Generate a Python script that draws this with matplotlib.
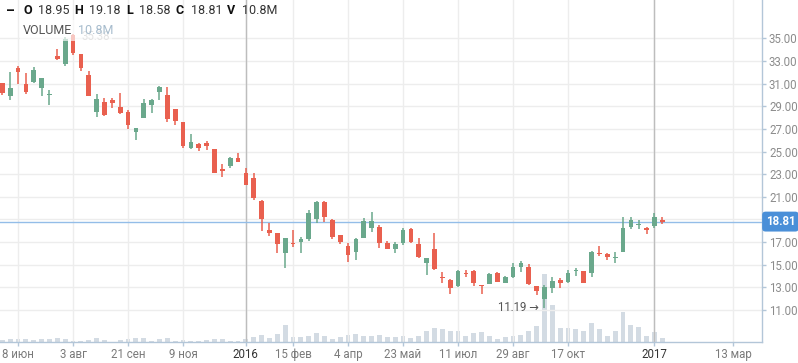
import matplotlib
matplotlib.use("Agg")
import matplotlib.pyplot as plt
import numpy as np

plt.rcParams['font.family'] = ['Roboto', 'DejaVu Sans']

# ---- data (weekly candles) ----
opens = [31.03, 29.93, 32.35, 30.96, 31.17, 30.64, 29.96, 33.44, 32.70, 35.29,
         33.61, 31.76, 28.52, 29.40, 29.55, 28.91, 28.46, 26.75, 27.99, 29.11,
         30.28, 29.99, 28.76, 27.61, 25.31, 25.66, 25.78, 25.22, 23.46, 23.75,
         24.43, 23.08, 22.63, 20.63, 18.07, 17.78, 16.06, 16.92, 17.03, 17.27,
         19.04, 20.51, 18.95, 17.63, 16.65, 16.12, 17.39, 18.27, 18.31, 16.89,
         16.36, 16.89, 18.13, 16.83, 15.18, 16.39, 13.92, 13.68, 13.12, 14.30,
         14.45, 13.21, 13.30, 14.24, 13.39, 13.92, 14.77, 14.77, 13.12, 12.00,
         12.97, 13.65, 13.50, 14.47, 14.42, 14.24, 16.06, 15.95, 15.57, 16.10,
         18.36, 18.54, 18.24, 18.45, 18.95]
highs = [31.08, 32.02, 32.55, 31.96, 32.47, 31.49, 30.43, 34.06, 35.09, 35.38,
         33.61, 32.11, 30.08, 29.70, 29.70, 30.20, 28.67, 27.10, 29.64, 29.64,
         30.82, 30.73, 28.76, 27.61, 26.55, 25.78, 25.93, 25.22, 23.90, 24.54,
         24.84, 23.52, 23.13, 20.72, 18.71, 17.78, 17.33, 18.07, 17.45, 19.83,
         20.63, 20.63, 19.04, 17.63, 16.89, 17.39, 19.10, 19.68, 18.51, 17.10,
         16.98, 18.22, 18.22, 17.33, 15.57, 17.83, 14.38, 13.77, 14.53, 14.53,
         14.53, 13.21, 14.24, 14.36, 14.00, 15.13, 15.33, 15.06, 13.12, 13.21,
         13.89, 13.80, 14.53, 14.68, 14.42, 16.24, 16.65, 16.06, 16.12, 19.19,
         19.19, 18.95, 18.36, 19.60, 19.18]
lows = [29.99, 29.55, 30.96, 30.08, 31.08, 29.93, 29.11, 33.08, 32.58, 33.55,
        32.14, 29.93, 28.08, 28.14, 28.82, 28.31, 26.99, 26.02, 27.99, 28.43,
        29.55, 27.58, 27.34, 25.34, 25.19, 25.07, 25.13, 23.08, 22.78, 23.52,
        24.10, 22.04, 20.72, 18.00, 17.54, 16.01, 14.74, 16.59, 16.06, 17.12,
        18.71, 18.80, 17.27, 16.83, 15.24, 15.42, 17.39, 17.92, 16.50, 16.36,
        16.06, 16.72, 16.89, 15.62, 14.09, 14.56, 13.36, 12.41, 13.06, 13.89,
        13.12, 12.44, 13.30, 13.50, 13.39, 13.85, 14.38, 13.21, 12.33, 11.19,
        12.53, 12.97, 13.36, 14.00, 13.36, 13.94, 15.80, 15.42, 15.13, 16.10,
        18.16, 18.13, 17.74, 18.27, 18.58]
closes = [30.20, 30.61, 32.05, 30.28, 32.20, 31.49, 30.08, 33.21, 34.91, 33.73,
          32.40, 29.93, 29.64, 28.23, 29.26, 28.43, 27.34, 27.10, 29.31, 29.55,
          30.73, 27.87, 27.70, 25.49, 25.84, 25.34, 25.49, 23.13, 23.31, 24.45,
          24.10, 22.04, 20.93, 19.04, 17.83, 16.83, 17.33, 16.83, 17.27, 19.54,
          20.51, 19.24, 17.45, 17.03, 15.86, 17.27, 18.86, 18.86, 16.89, 16.36,
          16.83, 18.07, 17.03, 15.71, 15.57, 14.62, 13.85, 12.97, 14.45, 14.21,
          13.41, 13.12, 14.18, 13.50, 13.89, 14.77, 15.13, 13.30, 12.70, 13.01,
          13.56, 13.41, 14.24, 14.53, 13.41, 16.12, 15.92, 15.71, 15.66, 18.22,
          18.95, 18.63, 18.07, 19.19, 18.81]
volumes_m = [5.3, 7.6, 7.6, 7.6, 5.3, 7.6, 7.6, 9.9, 7.6, 3.0,
             3.0, 5.3, 9.9, 5.3, 0.7, 5.3, 7.6, 9.9, 9.9, 3.0,
             7.6, 9.9, 3.0, 5.3, 3.0, 3.0, 5.3, 7.6, 7.6, 3.0,
             3.0, 7.6, 12.2, 16.8, 9.2, 19.1, 39.8, 11.5, 11.5, 14.5,
             21.4, 14.5, 7.6, 11.5, 16.8, 19.1, 14.5, 14.5, 16.8, 12.2,
             12.2, 14.5, 9.9, 15.4, 26.0, 33.8, 31.5, 26.9, 26.9, 15.4,
             22.3, 24.6, 15.4, 8.5, 13.1, 15.4, 17.7, 26.9, 38.4, 157.0,
             85.8, 33.8, 33.8, 31.5, 26.9, 44.4, 31.5, 15.4, 26.9, 70.6,
             40.7, 36.1, 15.4, 24.6, 10.8]

tick_idx = [2, 9, 16, 23, 31, 37, 44, 51, 58, 65, 72, 83, 93]
tick_labels = ['8 июн', '3 авг', '21 сен', '9 ноя', '2016', '15 фев', '4 апр',
               '23 май', '11 июл', '29 авг', '17 окт', '2017', '13 мар']
year_labels = {'2016', '2017'}
price_ticks = [11, 13, 15, 17, 19, 21, 23, 25, 27, 29, 31, 33, 35]
last_price = 18.81
max_price, min_price = 35.38, 11.19

UP = '#6aa88c'
DOWN = '#e9604f'
AXC = '#b3c6d8'

W, H = 798, 363
fig = plt.figure(figsize=(W / 100, H / 100), dpi=100)
ax_h = 342.3 / H
ax = fig.add_axes([0, 1 - ax_h, 762 / W, ax_h])
axv = ax.twinx()
ax.set_zorder(axv.get_zorder() + 1)
ax.patch.set_visible(False)
axv.patch.set_facecolor('white')

x = np.arange(len(opens))
o = np.array(opens); c = np.array(closes)
hi = np.array(highs); lo = np.array(lows)
up = c >= o
cols = np.where(up, UP, DOWN)

# volume
axv.bar(x, volumes_m, width=0.62, color='#d3dbe3', zorder=1)
axv.set_ylim(0, 342.3 * 2.3)
axv.set_yticks([])
for s in axv.spines.values():
    s.set_visible(False)

# candles
ax.vlines(x, lo, hi, colors=cols, linewidth=1.1, zorder=3)
bh = np.maximum(np.abs(c - o), 0.09)
ax.bar(x, bh, bottom=np.minimum(o, c), width=0.6, color=cols, zorder=4)

ax.set_xlim(-0.293, 96.69)
ax.set_ylim(8.147, 38.385)

# grid
ax.set_yticks(price_ticks)
# the label nearest the last price is hidden behind the price tag
ax.set_yticklabels(['' if abs(v - last_price) < 1 else f'{v:.2f}' for v in price_ticks])
ax.set_xticks(tick_idx)
ax.set_xticklabels(tick_labels)
ax.grid(True, color='#ededed', linewidth=1, zorder=0)
ax.set_axisbelow(True)
for i, lab in zip(tick_idx, tick_labels):
    if lab in year_labels:
        ax.axvline(i, color='#bdbdbd', linewidth=1, zorder=2)

ax.yaxis.tick_right()
ax.tick_params(axis='y', length=3, color=AXC, labelcolor='#8c8c8c',
               labelsize=8.3, pad=2, width=1)
ax.tick_params(axis='x', length=3, color=AXC, labelcolor='#7a7a7a',
               labelsize=8.3, pad=1.2, width=1)
for t in ax.get_xticklabels():
    if t.get_text() in year_labels:
        t.set_color('#333333')
for k in ['left', 'top']:
    ax.spines[k].set_visible(False)
for k in ['right', 'bottom']:
    ax.spines[k].set_color(AXC)
    ax.spines[k].set_linewidth(1)

# last price line + label
ax.axhline(last_price, color='#93bde8', linewidth=1, zorder=2)
ax.annotate(f'{last_price:.2f}', xy=(1.0, last_price),
            xycoords=('axes fraction', 'data'), xytext=(2.6, 0),
            textcoords='offset points', va='center', ha='left',
            color='white', fontsize=8.3, fontweight='bold',
            bbox=dict(boxstyle='round,pad=0.3', fc='#4a8fd8', ec='none'),
            annotation_clip=False, zorder=10)

# min annotation
ax.annotate(f'{min_price:.2f} →', xy=(69, min_price), xytext=(-4, 0),
            textcoords='offset points', ha='right', va='center',
            color='#555555', fontsize=8.3, zorder=6)
# max annotation (partly hidden by legend)
ax.annotate(f'{max_price:.2f}', xy=(9, max_price), xytext=(6, -2),
            textcoords='offset points', ha='left', va='center',
            color='#b0b0b0', fontsize=8.3, zorder=6)

# header
def fx(px):
    return px / W

def fy(py):
    return 1 - py / H

fig.text(fx(6), fy(11), '–', fontsize=10, fontweight='bold', color='#111', va='center')
items = [(23, 'O', True), (38, '18.95', False), (74, 'H', True), (89, '19.18', False),
         (126, 'L', True), (139, '18.58', False), (176, 'C', True), (191, '18.81', False),
         (227, 'V', True), (242, '10.8M', False)]
for px, s, b in items:
    fig.text(fx(px), fy(11), s, fontsize=9, fontweight='bold' if b else 'normal',
             color='#111111' if b else '#333333', va='center', ha='left', zorder=20)

fig.patches.append(plt.Rectangle((fx(20), fy(41)), (112 - 20) / W, 21 / H,
                                 transform=fig.transFigure, fc='white', alpha=0.65,
                                 ec='none', zorder=15))
fig.text(fx(23), fy(30.5), 'VOLUME', fontsize=9, color='#555555', va='center', zorder=20)
fig.text(fx(78), fy(30.5), '10.8M', fontsize=9, color='#a7bccd', va='center', zorder=20)

fig.savefig('out.png', dpi=100)
